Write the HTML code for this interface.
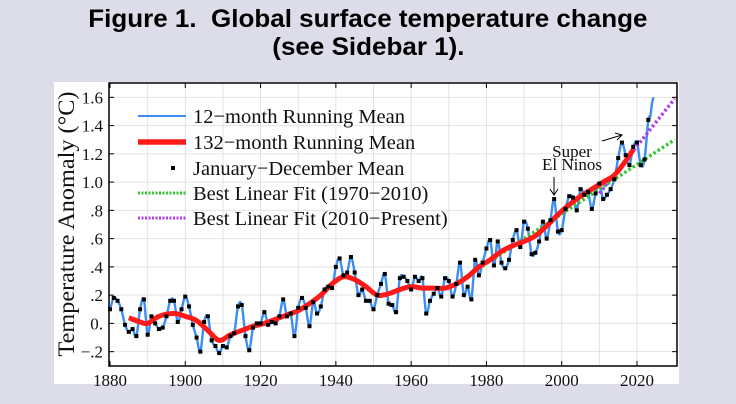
<!DOCTYPE html>
<html><head><meta charset="utf-8"><style>
html,body{margin:0;padding:0;background:#dddce9;}
body{width:736px;height:404px;position:relative;overflow:hidden;}
.title{position:absolute;left:0;width:736px;text-align:center;font-family:"Liberation Sans",Arial,sans-serif;font-weight:bold;font-size:25px;color:#000;line-height:28px;top:5px;}
svg{position:absolute;left:0;top:0;}
</style></head><body>
<div class="title"><span style="display:inline-block;transform:scaleX(1.04)">Figure 1.&nbsp; Global surface temperature change</span><br><span style="display:inline-block;transform:scaleX(1.04)">(see Sidebar 1).</span></div>
<svg id="chart" width="736" height="404"></svg>
<script>
const years = [];
for (let y = 1880; y <= 2023; y++) years.push(y);
const annualMean = [0.10,0.18,0.16,0.10,-0.01,-0.06,-0.04,-0.09,0.10,0.17,
-0.08,0.05,0.00,-0.04,-0.03,0.05,0.16,0.16,0.01,0.10,
0.19,0.12,-0.01,-0.10,-0.20,0.01,0.05,-0.12,-0.16,-0.21,
-0.16,-0.17,-0.09,-0.07,0.12,0.13,-0.09,-0.19,-0.03,0.00,
0.00,0.08,-0.01,0.01,0.00,0.05,0.17,0.05,0.07,-0.09,
0.11,0.18,0.11,-0.02,0.15,0.07,0.12,0.24,0.26,0.25,
0.40,0.46,0.34,0.36,0.47,0.36,0.20,0.24,0.16,0.16,
0.10,0.20,0.28,0.35,0.14,0.13,0.08,0.32,0.33,0.30,
0.24,0.33,0.30,0.32,0.07,0.16,0.21,0.25,0.19,0.32,
0.30,0.19,0.28,0.43,0.20,0.26,0.17,0.45,0.34,0.43,
0.53,0.59,0.41,0.58,0.43,0.39,0.45,0.59,0.66,0.54,
0.72,0.67,0.49,0.50,0.58,0.72,0.60,0.73,0.88,0.65,
0.66,0.81,0.90,0.89,0.80,0.95,0.91,0.93,0.81,0.92,
0.99,0.88,0.91,0.95,1.02,1.17,1.28,1.19,1.12,1.25,
1.28,1.12,1.16,1.44];
const runTailYears = [2023.5, 2024.0, 2024.4];
const runTailValues = [1.46, 1.56, 1.60];
const smoothYears = [1885,1888,1890,1893,1897,1900,1903,1906,1909,1912,1915,1918,1921,1924,1927,1930,1933,1936,1939,1942,1945,1948,1951,1954,1957,1960,1963,1966,1969,1972,1975,1978,1981,1984,1987,1990,1993,1996,1999,2002,2005,2008,2011,2014,2017,2019];
const smoothValues = [0.04,0.01,0.00,0.05,0.07,0.05,0.02,-0.05,-0.12,-0.08,-0.05,-0.02,0.00,0.03,0.06,0.09,0.14,0.20,0.28,0.33,0.31,0.26,0.20,0.21,0.24,0.26,0.25,0.25,0.25,0.28,0.33,0.40,0.45,0.51,0.55,0.58,0.62,0.69,0.77,0.84,0.90,0.95,1.00,1.05,1.15,1.23];
const fit1Years = [1970, 2030];
const fit1Values = [0.25, 1.30];
const fit2Years = [2010, 2030];
const fit2Values = [0.92, 1.59];
const xTicks = [1880,1900,1920,1940,1960,1980,2000,2020];
const yTicks = [-0.2,0,0.2,0.4,0.6,0.8,1.0,1.2,1.4,1.6];
const yTickLabels = ["\u2212.2","0.",".2",".4",".6",".8","1.0","1.2","1.4","1.6"];

const NS="http://www.w3.org/2000/svg";
const svg=document.getElementById('chart');
const L=109,R=677,T=83,B=366;
const X=y=>110+(y-1880)*(527/140);
const Y=v=>323.4-v*141.3;
function mk(t,a,p){const e=document.createElementNS(NS,t);for(const k in a)e.setAttribute(k,a[k]);(p||svg).appendChild(e);return e;}
function smoothPath(pts){let d="M"+pts[0][0]+","+pts[0][1];for(let i=0;i<pts.length-1;i++){const p0=pts[Math.max(0,i-1)],p1=pts[i],p2=pts[i+1],p3=pts[Math.min(pts.length-1,i+2)];const c1=[p1[0]+(p2[0]-p0[0])/6,p1[1]+(p2[1]-p0[1])/6],c2=[p2[0]-(p3[0]-p1[0])/6,p2[1]-(p3[1]-p1[1])/6];d+=" C"+c1[0]+","+c1[1]+" "+c2[0]+","+c2[1]+" "+p2[0]+","+p2[1];}return d;}

let bg=mk('rect',{x:54,y:82,width:625,height:302,fill:'#fff'});


for(let yr=1890;yr<2030;yr+=10){let g=mk('line',{x1:X(yr),x2:X(yr),y1:T,y2:B,stroke:'#e2e2e2','stroke-width':1});}
yTicks.forEach(v=>{let g=mk('line',{x1:L,x2:R,y1:Y(v),y2:Y(v),stroke:'#e2e2e2','stroke-width':1});});
xTicks.forEach(yr=>{mk('line',{x1:X(yr),x2:X(yr),y1:B,y2:B-5,stroke:'#000'});mk('line',{x1:X(yr),x2:X(yr),y1:T,y2:T+5,stroke:'#000'});
let t=mk('text',{x:X(yr),y:386,'text-anchor':'middle','font-family':'Liberation Serif,serif','font-size':17,fill:'#111'});t.textContent=yr;
});
yTicks.forEach((v,i)=>{mk('line',{x1:L,x2:L+5,y1:Y(v),y2:Y(v),stroke:'#000'});mk('line',{x1:R,x2:R-5,y1:Y(v),y2:Y(v),stroke:'#000'});
let t=mk('text',{x:103,y:Y(v)+6,'text-anchor':'end','font-family':'Liberation Serif,serif','font-size':17,fill:'#111'});t.textContent=yTickLabels[i];
});
let yt=mk('text',{x:0,y:0,transform:'translate(74,224) rotate(-90)','text-anchor':'middle','font-family':'Liberation Serif,serif','font-size':23,fill:'#111',textLength:265,lengthAdjust:'spacingAndGlyphs'});yt.textContent='Temperature Anomaly (\u00B0C)';

const bluePts=years.map((y,i)=>[X(y),Y(annualMean[i])]).concat(runTailYears.map((y,i)=>[X(y),Y(runTailValues[i])]));
let blue=mk('path',{d:smoothPath(bluePts),fill:'none',stroke:'#3d8ef0','stroke-width':2.4});

let g1=mk('path',{d:'M'+X(fit1Years[0])+','+Y(fit1Values[0])+' L'+X(fit1Years[1])+','+Y(fit1Values[1]),stroke:'#2fc52f','stroke-width':3.5,'stroke-dasharray':'2.5 2.5',fill:'none'});

let g2=mk('path',{d:'M'+X(fit2Years[0])+','+Y(fit2Values[0])+' L'+X(fit2Years[1])+','+Y(fit2Values[1]),stroke:'#b03cf0','stroke-width':3.5,'stroke-dasharray':'2.5 2.5',fill:'none'});

let red=mk('path',{d:smoothPath(smoothYears.map((y,i)=>[X(y),Y(smoothValues[i])])),fill:'none',stroke:'#ff1a1a','stroke-width':5,'stroke-linejoin':'round'});

years.forEach((y,i)=>{let s=mk('rect',{x:X(y)-2,y:Y(annualMean[i])-2,width:4,height:4,fill:'#000'});
});
let fr=mk('rect',{x:L,y:T,width:R-L,height:B-T,fill:'none',stroke:'#000','stroke-width':1.5});

const legendLabels=['12\u2212month Running Mean','132\u2212month Running Mean','January\u2212December Mean','Best Linear Fit (1970\u22122010)','Best Linear Fit (2010\u2212Present)'];
const ly=[116,142,168,193,218];
const lg=mk('g',{});
mk('line',{x1:138,x2:186,y1:ly[0],y2:ly[0],stroke:'#3d8ef0','stroke-width':2},lg);
mk('line',{x1:138,x2:186,y1:ly[1],y2:ly[1],stroke:'#ff1a1a','stroke-width':5.5},lg);
mk('rect',{x:171,y:ly[2]-2,width:4,height:4,fill:'#000'},lg);
mk('line',{x1:138,x2:186,y1:ly[3],y2:ly[3],stroke:'#2fc52f','stroke-width':3,'stroke-dasharray':'2 1.5'},lg);
mk('line',{x1:138,x2:186,y1:ly[4],y2:ly[4],stroke:'#b03cf0','stroke-width':3,'stroke-dasharray':'2 1.5'},lg);
legendLabels.forEach((s,i)=>{let t=mk('text',{x:193,y:ly[i]+7,'font-family':'Liberation Serif,serif','font-size':20.5,fill:'#111'},lg);t.textContent=s;
});
let a1=mk('text',{x:572,y:157,'text-anchor':'middle','font-family':'Liberation Serif,serif','font-size':17,fill:'#111'});a1.textContent='Super';

let a2=mk('text',{x:572,y:170,'text-anchor':'middle','font-family':'Liberation Serif,serif','font-size':17,fill:'#111'});a2.textContent='El Ninos';

mk('path',{d:'M554,177 L554,195 M550,189 L554,195 L558,189',stroke:'#000','stroke-width':1,fill:'none'});
mk('path',{d:'M602,141 L622,135 M615,133 L622,135 L617,140',stroke:'#000','stroke-width':1,fill:'none'});
</script>
</body></html>
